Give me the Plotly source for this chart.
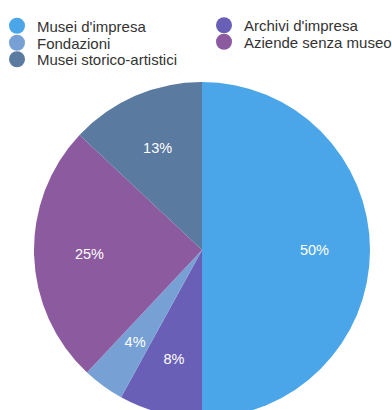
import plotly.graph_objects as go

categories = ["Musei d'impresa", "Archivi d'impresa", "Fondazioni",
              "Aziende senza museo", "Musei storico-artistici"]
values = [50, 8, 4, 25, 13]
colors = ["#4aa6e8", "#6a5fb6", "#77a1d5", "#8c5a9e", "#5a7aa0"]

W, H = 392, 430
OFF = 0  # body margin removed by post_script below
CX, CY, R = 202, 250, 168  # pie centre and radius in page pixels


def dom(r):
    return dict(x=[(CX - r - OFF) / W, (CX + r - OFF) / W],
                y=[1 - (CY + r - OFF) / H, 1 - (CY - r - OFF) / H])


fig = go.Figure()
fig.add_trace(go.Pie(
    labels=categories, values=values, sort=False, direction="clockwise",
    rotation=0, marker=dict(colors=colors, line=dict(width=0)),
    textinfo="none", showlegend=False, hoverinfo="label+percent", domain=dom(R),
))

# transparent overlays used only to place the percentage labels
label_font = dict(color="white", size=14.5, family="Liberation Sans, Arial")
overlays = [  # (radius, hole, which slices get a label)
    (R, 0.34, {0, 3}),
    (156, 0, {4}),
    (141, 0, {1}),
    (128, 0, {2}),
]
for r, hole, show in overlays:
    fig.add_trace(go.Pie(
        labels=categories, values=values, sort=False, direction="clockwise",
        rotation=0, hole=hole,
        marker=dict(colors=["rgba(0,0,0,0)"] * len(values), line=dict(width=0)),
        texttemplate=["%{percent:.0%}" if i in show else "" for i in range(len(values))],
        textposition="inside", insidetextorientation="horizontal",
        insidetextfont=label_font, showlegend=False, hoverinfo="skip", domain=dom(r),
    ))

# legend: one small legend per entry, placed in two columns
legend_pos = {
    "legend": (17, 23.5), "legend2": (224, 23), "legend3": (17, 40.5),
    "legend4": (224, 39.5), "legend5": (17, 57),
}
lnames = ["legend", "legend2", "legend3", "legend4", "legend5"]
for c, col, ln in zip(categories, colors, lnames):
    fig.add_trace(go.Scatter(x=[None], y=[None], mode="markers", name=c, legend=ln,
                             marker=dict(symbol="circle", size=17, color=col)))

leg_font = dict(family="Liberation Sans, Arial", size=15, color="#333333")
lay = {}
for ln in lnames:
    mx, my = legend_pos[ln]
    lay[ln] = dict(x=(mx - OFF - 20) / W, y=1 - (my - OFF - 14) / H,
                   xanchor="left", yanchor="top", font=leg_font,
                   bgcolor="rgba(0,0,0,0)", borderwidth=0)

fig.update_layout(
    width=W, height=H, margin=dict(l=0, r=0, t=0, b=0, autoexpand=False),
    paper_bgcolor="white", plot_bgcolor="white",
    xaxis=dict(visible=False), yaxis=dict(visible=False),
    **lay,
)
fig.write_html(
    "out.html",
    config={"displayModeBar": False},
    post_script=("document.documentElement.style.overflow='hidden';"
                 "document.body.style.overflow='hidden';"
                 "document.body.style.margin='0';"),
)
